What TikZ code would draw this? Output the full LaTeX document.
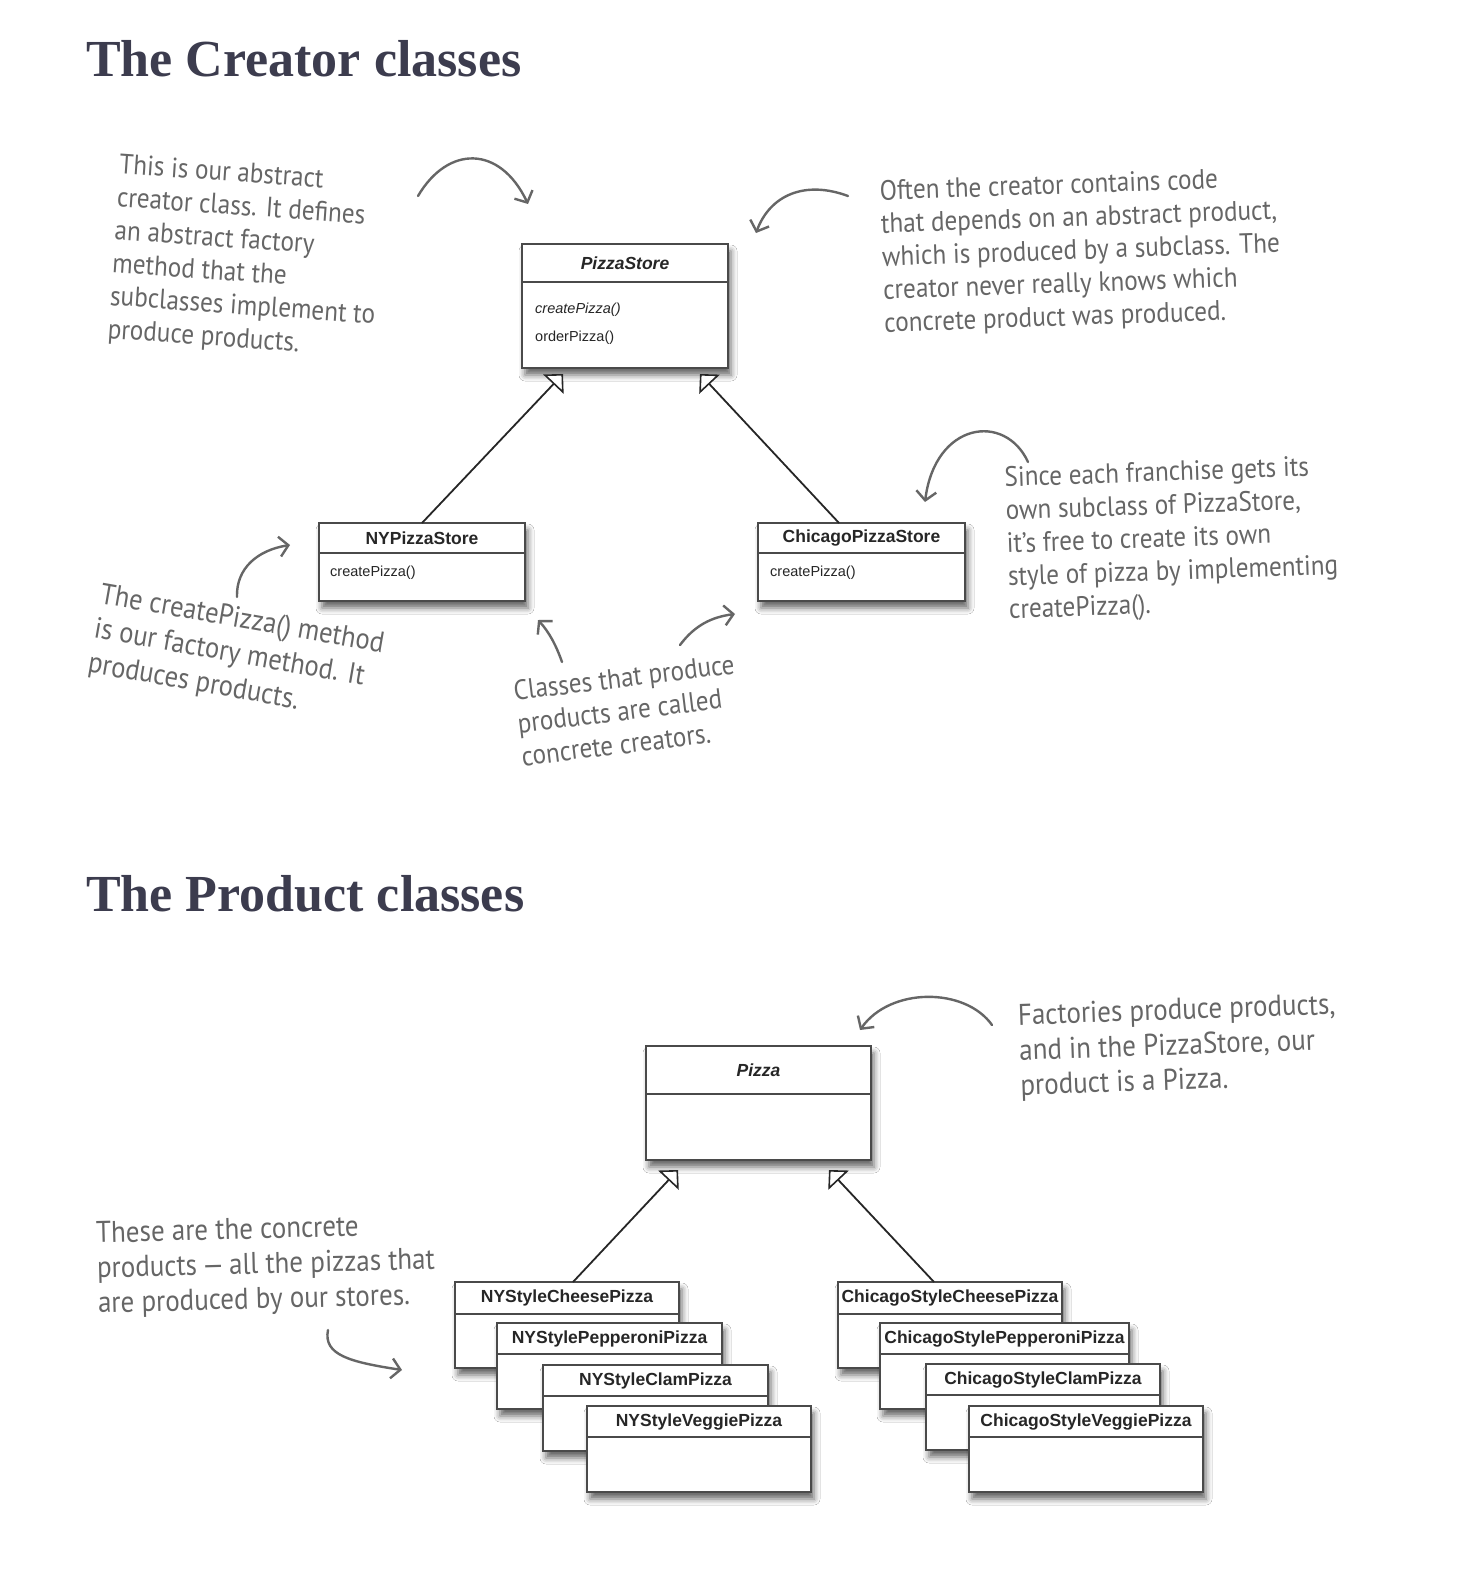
\documentclass[tikz,border=0pt]{standalone}
\usepackage{fontspec}
\usetikzlibrary{arrows.meta,calc,shadows.blur}
\setmainfont{Liberation Sans}
\newfontfamily\ttlfont{Liberation Serif}
\newfontfamily\handfont[FakeStretch=0.9]{PT Sans}
\newfontfamily\umlfont{Liberation Sans}
\definecolor{ttlcol}{HTML}{3C3C4E}
\definecolor{handcol}{HTML}{666666}
\definecolor{boxcol}{HTML}{4A4A4A}
\tikzset{
  umlbox/.style={draw=boxcol, line width=1.3pt, fill=white, rectangle, anchor=north west, inner sep=0pt, outer sep=0pt,
    blur shadow={shadow xshift=3pt, shadow yshift=-7pt, shadow blur radius=6pt, shadow opacity=60}},
  divline/.style={draw=boxcol, line width=1.3pt},
  hdrtext/.style={font=\umlfont\fontsize{17.5}{20}\selectfont\bfseries, text=black!85, inner sep=0pt},
  bodytext/.style={font=\umlfont\fontsize{14.5}{17}\selectfont, text=black!85, inner sep=0pt, anchor=west},
  inh/.style={draw=black!85, line width=1.8pt, -{Triangle[fill=white, length=14pt, width=28pt, line width=1.6pt]}},
  hand/.style={font=\handfont\fontsize{28}{33}\selectfont, text=handcol, align=left, inner sep=0pt},
  handbig/.style={hand, font=\handfont\fontsize{30}{35}\selectfont},
  harrow/.style={draw=handcol, line width=2.4pt, line cap=round, -{Straight Barb[length=9pt, width=20pt, line width=2.4pt]}},
  ttl/.style={font=\ttlfont\fontsize{52}{60}\selectfont\bfseries, text=ttlcol, anchor=base west, inner sep=0pt},
}
% name, x, y, width, height, header height, title
\newcommand\umlcls[7]{%
  \node[umlbox, minimum width=#4pt, minimum height=#5pt] (#1) at (#2,#3) {};
  \draw[divline] ($(#1.north west)+(0,#6)$) -- ($(#1.north east)+(0,#6)$);
  \node[hdrtext] (#1-t) at ($(#1.north)+(0,{#6/2})$) {#7};
}
\begin{document}
\begin{tikzpicture}[x=1pt,y=-1pt]
\fill[white] (0,0) rectangle (1460,1592);
\useasboundingbox (0,0) rectangle (1460,1592);

% titles
\node[ttl] (t1) at (86,77) {The Creator classes};
\node[ttl] (t2) at (86,911) {The Product classes};

% creator classes
\umlcls{ps}{522}{244}{206}{124}{38}{\itshape PizzaStore}
\node[bodytext] (ps-m1) at ($(ps.north west)+(13,66)$) {\itshape createPizza()};
\node[bodytext] (ps-m2) at ($(ps.north west)+(13,94)$) {orderPizza()};

\umlcls{ny}{319}{523}{206}{78}{30}{NYPizzaStore}
\node[bodytext] (ny-m1) at ($(ny.north west)+(11,50)$) {createPizza()};
\umlcls{ch}{758}{523}{207}{78}{30}{ChicagoPizzaStore}
\node[bodytext] (ch-m1) at ($(ch.north west)+(12,50)$) {createPizza()};

\draw[inh] (ny.north) -- ($(ps.south west)+(41,6)$);
\draw[inh] ($(ch.north west)+(81,0)$) -- ($(ps.south west)+(178,6)$);

% product classes
\umlcls{pz}{646}{1046}{225}{114}{48}{\itshape Pizza}

\umlcls{nyc}{455}{1282}{224}{86}{32}{NYStyleCheesePizza}
\umlcls{nyp}{497}{1323}{225}{86}{31}{NYStylePepperoniPizza}
\umlcls{nycl}{543}{1365}{225}{86}{31}{NYStyleClamPizza}
\umlcls{nyv}{587}{1406}{224}{86}{31}{NYStyleVeggiePizza}

\umlcls{chc}{838}{1282}{224}{86}{32}{ChicagoStyleCheesePizza}
\umlcls{chp}{880}{1323}{249}{86}{31}{ChicagoStylePepperoniPizza}
\umlcls{chcl}{926}{1364}{234}{86}{31}{ChicagoStyleClamPizza}
\umlcls{chv}{969}{1406}{234}{86}{31}{ChicagoStyleVeggiePizza}

\draw[inh] ($(nyc.north west)+(118,0)$) -- ($(pz.south west)+(32,10)$);
\draw[inh] ($(chc.north west)+(96,0)$) -- ($(pz.south west)+(183,10)$);

% handwritten notes
\node[hand, rotate=-4] (n1) at (246,258) {This is our abstract\\creator class. It defines\\an abstract factory\\method that the\\subclasses implement to\\produce products.};
\node[hand, rotate=2] (n2) at (1081,252) {Often the creator contains code\\that depends on an abstract product,\\which is produced by a subclass. The\\creator never really knows which\\concrete product was produced.};
\node[hand, rotate=2] (n3) at (1172,540) {Since each franchise gets its\\own subclass of PizzaStore,\\it’s free to create its own\\style of pizza by implementing\\createPizza().};
\node[hand, font=\handfont\fontsize{29.5}{35}\selectfont, rotate=-10] (n4) at (236,655) {The createPizza() method\\is our factory method. It\\produces products.};
\node[hand, rotate=7] (n5) at (628,710) {Classes that produce\\products are called\\concrete creators.};
\node[handbig, rotate=2] (n6) at (1178,1047) {Factories produce products,\\and in the PizzaStore, our\\product is a Pizza.};
\node[handbig, rotate=1.5] (n7) at (266,1266) {These are the concrete\\products\,—\,all the pizzas that\\are produced by our stores.};

% annotation arrows
\coordinate (a1s) at (418,196); \coordinate (a1e) at (528,204);
\draw[harrow] (a1s) .. controls (448,145) and (500,145) .. (a1e);
\coordinate (a2s) at (848,196); \coordinate (a2e) at (756,233);
\draw[harrow] (a2s) .. controls (805,180) and (770,195) .. (a2e);
\coordinate (a3s) at (1028,462); \coordinate (a3e) at (925,502);
\draw[harrow] (a3s) .. controls (1005,412) and (935,422) .. (a3e);
\coordinate (a4s) at (237,597); \coordinate (a4e) at (290,545);
\draw[harrow] (a4s) .. controls (236,568) and (258,550) .. (a4e);
\coordinate (a5s) at (562,662); \coordinate (a5e) at (538,620);
\draw[harrow] (a5s) .. controls (556,645) and (549,632) .. (a5e);
\coordinate (a6s) at (680,645); \coordinate (a6e) at (735,614);
\draw[harrow] (a6s) .. controls (695,625) and (712,617) .. (a6e);
\coordinate (a7s) at (992,1025); \coordinate (a7e) at (860,1030);
\draw[harrow] (a7s) .. controls (965,987) and (890,987) .. (a7e);
\coordinate (a8s) at (328,1330); \coordinate (a8e) at (402,1370);
\draw[harrow] (a8s) .. controls (323,1355) and (350,1362) .. (a8e);
\end{tikzpicture}
\end{document}
